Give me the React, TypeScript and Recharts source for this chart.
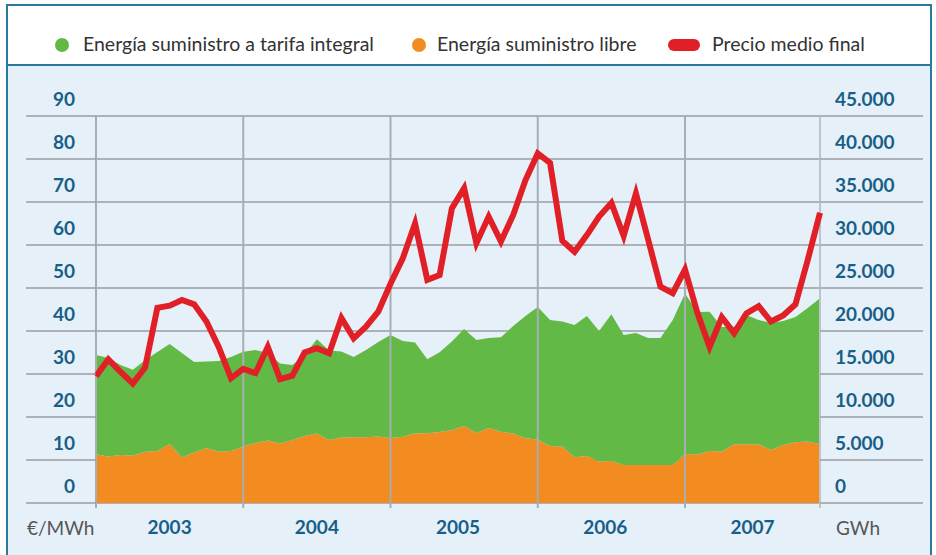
import { ComposedChart, Area, Line, XAxis, YAxis, CartesianGrid, ReferenceLine } from 'recharts';

// monthly values, Jan 2003 .. Dec 2007
const PRECIO = [
  29.5, 33.4, 30.5, 27.8, 31.5, 45.4, 45.9, 47.2, 46.2, 42.2, 36.3, 29.0,
  31.2, 30.2, 36.3, 28.8, 29.6, 35.0, 36.0, 34.8, 43.0, 38.3, 41.0, 44.5,
  51.0, 56.9, 65.0, 51.9, 53.0, 68.5, 73.2, 60.4, 66.6, 60.8, 67.0, 75.1,
  81.3, 79.1, 61.0, 58.4, 62.3, 66.6, 69.8, 62.1, 72.0, 61.2, 50.3, 48.8,
  54.3, 44.3, 36.3, 43.2, 39.5, 44.1, 45.8, 42.2, 43.6, 46.2, 56.5, 67.5,
];

const LIBRE = [
  5660, 5410, 5580, 5520, 5970, 6050, 6860, 5290, 5870, 6400, 5970, 6050,
  6570, 6980, 7270, 6920, 7330, 7790, 8080, 7330, 7620, 7640, 7640, 7730,
  7560, 7710, 8100, 8100, 8260, 8490, 8950, 8140, 8720, 8290, 8080, 7520,
  7380, 6630, 6570, 5310, 5470, 4830, 4880, 4420, 4420, 4420, 4420, 4420,
  5700, 5640, 6050, 5990, 6830, 6830, 6830, 6160, 6740, 7060, 7150, 6860,
];

const TARIFA = [
  11540, 11450, 10470, 9980, 10630, 11500, 11630, 12150, 10530, 10050, 10540, 10930,
  11030, 10810, 10170, 9300, 8720, 9420, 10960, 10400, 10000, 9340, 10150, 10990,
  11980, 11130, 10560, 8610, 9260, 10300, 11280, 10810, 10470, 10980, 12500, 14220,
  15410, 14650, 14530, 15390, 16270, 15170, 17060, 15120, 15350, 14770, 14770, 16860,
  18660, 16570, 16190, 14480, 13670, 15030, 14450, 14770, 14420, 14570, 15520, 16940,
];

const YEARS = ['2003', '2004', '2005', '2006', '2007'];
const YEAR_POS = [6, 18, 29.5, 41.5, 53.5];
const YEAR_BOUNDS = [0, 12, 24, 36, 48, 59];

const LEFT_TICKS = [0, 10, 20, 30, 40, 50, 60, 70, 80, 90];
const RIGHT_TICKS = [0, 5000, 10000, 15000, 20000, 25000, 30000, 35000, 40000, 45000];

const GREEN = '#62b946';
const ORANGE = '#f28b20';
const RED = '#e11f27';
const BG = '#e6f0f9';
const FRAME = '#2a7aa0';
const GRID = '#9b9ea2';
const TICK_TXT = '#175f88';

const data = PRECIO.map((p, i) => ({ i, precio: p, libre: LIBRE[i], tarifa: TARIFA[i] }));

const fmtGwh = (v: number) => (v === 0 ? '0' : v.toLocaleString('de-DE'));

const LeftTick = ({ y, payload }: any) => (
  <g>
    <line x1={26} x2={96} y1={y} y2={y} stroke={GRID} strokeWidth={1.5} />
    <text x={75} y={y - 10} textAnchor="end" fill={TICK_TXT} fontWeight={700} fontSize={19} fontFamily="Lato">
      {payload.value}
    </text>
  </g>
);

const RightTick = ({ y, payload }: any) => (
  <g>
    <line x1={820} x2={923} y1={y} y2={y} stroke={GRID} strokeWidth={1.5} />
    <text x={835} y={y - 10} textAnchor="start" fill={TICK_TXT} fontWeight={700} fontSize={19} fontFamily="Lato">
      {fmtGwh(payload.value)}
    </text>
  </g>
);

const XTick = ({ x, payload }: any) => {
  const k = YEAR_POS.indexOf(payload.value);
  if (k >= 0) {
    return (
      <text x={x} y={534} textAnchor="middle" fill={TICK_TXT} fontWeight={700} fontSize={19} fontFamily="Lato">
        {YEARS[k]}
      </text>
    );
  }
  return <line x1={x} x2={x} y1={503} y2={508} stroke={payload.value === 59 ? '#bfc4ca' : '#a9adb3'} strokeWidth={2} />;
};

function LegendRow() {
  const txt = { position: 'absolute' as const, top: 34, fontSize: 19.5, lineHeight: '20px', color: '#333', whiteSpace: 'nowrap' as const };
  return (
    <>
      <div style={{ position: 'absolute', left: 55, top: 38, width: 14, height: 14, borderRadius: 7, background: GREEN }} />
      <div style={{ ...txt, left: 83 }}>Energía suministro a tarifa integral</div>
      <div style={{ position: 'absolute', left: 412, top: 38, width: 14, height: 14, borderRadius: 7, background: ORANGE }} />
      <div style={{ ...txt, left: 437 }}>Energía suministro libre</div>
      <div style={{ position: 'absolute', left: 668, top: 39, width: 32, height: 12, borderRadius: 6, background: RED }} />
      <div style={{ ...txt, left: 712 }}>Precio medio final</div>
    </>
  );
}

export default function App() {
  const ticksX = [...YEAR_BOUNDS, ...YEAR_POS].sort((a, b) => a - b);
  return (
    <div style={{ position: 'absolute', left: 0, top: 0, width: 936, height: 555, background: '#fff', overflow: 'hidden', fontFamily: 'Lato' }}>
      <div style={{ position: 'absolute', left: 6, top: 65, width: 925, height: 500, background: BG }} />
      <div style={{ position: 'absolute', left: 6, top: 4, width: 926, height: 600, border: `2px solid ${FRAME}`, boxSizing: 'border-box' }} />
      <div style={{ position: 'absolute', left: 6, top: 64, width: 926, height: 2, background: FRAME }} />
      <LegendRow />
      <div style={{ position: 'absolute', left: 27, top: 518, fontSize: 19, lineHeight: '20px', color: '#555' }}>€/MWh</div>
      <div style={{ position: 'absolute', left: 836, top: 518, fontSize: 19, lineHeight: '20px', color: '#555' }}>GWh</div>
      <div style={{ position: 'absolute', left: 0, top: 0 }}>
        <ComposedChart width={936} height={555} data={data} margin={{ top: 116, right: 36, bottom: 22, left: 36 }}>
          <CartesianGrid yAxisId="left" horizontal vertical={false} stroke={GRID} strokeWidth={1.5} />
          <XAxis
            dataKey="i"
            type="number"
            domain={[0, 59]}
            ticks={ticksX}
            interval={0}
            tick={<XTick />}
            tickLine={false}
            axisLine={false}
            height={30}
          />
          <YAxis
            yAxisId="left"
            domain={[0, 90]}
            ticks={LEFT_TICKS}
            tick={<LeftTick />}
            tickLine={false}
            axisLine={false}
            width={60}
          />
          <YAxis
            yAxisId="right"
            orientation="right"
            domain={[0, 45000]}
            ticks={RIGHT_TICKS}
            tick={<RightTick />}
            tickLine={false}
            axisLine={false}
            width={80}
          />
          <Area
            yAxisId="right"
            type="linear"
            dataKey="libre"
            stackId="e"
            stroke="none"
            fill={ORANGE}
            fillOpacity={1}
            isAnimationActive={false}
          />
          <Area
            yAxisId="right"
            type="linear"
            dataKey="tarifa"
            stackId="e"
            stroke="none"
            fill={GREEN}
            fillOpacity={1}
            isAnimationActive={false}
          />
          {YEAR_BOUNDS.map((b) => (
            <ReferenceLine
              key={b}
              yAxisId="left"
              x={b}
              stroke={b === 59 ? '#bfc4ca' : '#a9adb3'}
              strokeWidth={2}
              zIndex={150}
            />
          ))}
          <Line
            yAxisId="left"
            type="linear"
            dataKey="precio"
            stroke={RED}
            strokeWidth={6}
            dot={false}
            activeDot={false}
            isAnimationActive={false}
          />
        </ComposedChart>
      </div>
    </div>
  );
}
